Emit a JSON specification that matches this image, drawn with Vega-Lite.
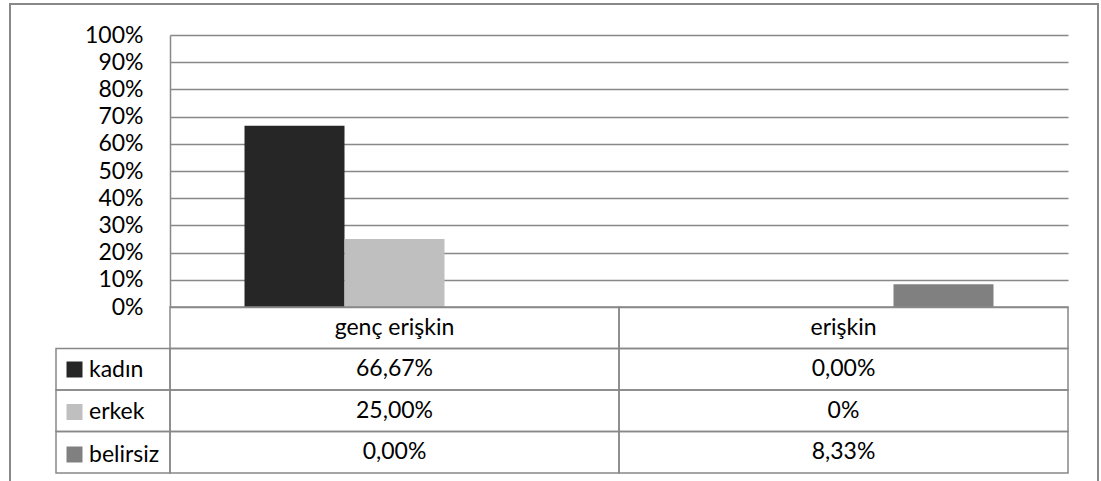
{
  "$schema": "https://vega.github.io/schema/vega-lite/v6.json",
  "width": 1088,
  "height": 478,
  "autosize": {"type": "none"},
  "padding": {"left": 10, "top": 4, "right": 3, "bottom": -1},
  "background": "white",
  "config": {
    "view": {"stroke": "#888888", "strokeWidth": 2},
    "font": "Lato",
    "text": {"font": "Lato", "fontSize": 23, "color": "black"}
  },
  "datasets": {
    "values": [
      {"age": "genç erişkin", "sex": "kadın", "value": 0.6667, "label": "66,67%"},
      {"age": "genç erişkin", "sex": "erkek", "value": 0.25, "label": "25,00%"},
      {"age": "genç erişkin", "sex": "belirsiz", "value": 0, "label": "0,00%"},
      {"age": "erişkin", "sex": "kadın", "value": 0, "label": "0,00%"},
      {"age": "erişkin", "sex": "erkek", "value": 0, "label": "0%"},
      {"age": "erişkin", "sex": "belirsiz", "value": 0.0833, "label": "8,33%"}
    ],
    "ages": [{"age": "genç erişkin"}, {"age": "erişkin"}],
    "keys": [{"sex": "kadın"}, {"sex": "erkek"}, {"sex": "belirsiz"}]
  },
  "layer": [
    {
      "data": {"name": "values"},
      "mark": {"type": "bar"},
      "encoding": {
        "x": {"field": "age", "type": "nominal", "scale": {"domain": ["genç erişkin", "erişkin"], "range": [160, 1058], "paddingInner": 0, "paddingOuter": 0}, "axis": null},
        "xOffset": {"field": "sex", "type": "nominal", "scale": {"domain": ["kadın", "erkek", "belirsiz"], "paddingInner": 0, "paddingOuter": 0.745}},
        "y": {
          "field": "value", "type": "quantitative",
          "scale": {"domain": [0, 1], "range": [303, 31], "nice": false},
          "axis": {
            "values": [0, 0.1, 0.2, 0.3, 0.4, 0.5, 0.6, 0.7, 0.8, 0.9, 1],
            "format": ".0%", "title": null, "offset": -160,
            "grid": true, "gridColor": "#888888", "gridWidth": 1.5,
            "domain": true, "domainColor": "#888888", "domainWidth": 1.5,
            "ticks": false, "tickSize": 0, "labelPadding": 27,
            "labelFont": "Lato", "labelFontSize": 23, "labelColor": "black"
          }
        },
        "color": {
          "field": "sex", "type": "nominal",
          "scale": {"domain": ["kadın", "erkek", "belirsiz"], "range": ["#262626", "#bfbfbf", "#808080"]},
          "legend": {
            "orient": "none", "legendX": 53, "legendY": 354, "title": null,
            "direction": "vertical", "padding": 0,
            "symbolType": "square", "symbolSize": 256, "symbolStrokeWidth": 0, "symbolOpacity": 1,
            "labelFont": "Lato", "labelFontSize": 23, "labelColor": "black", "labelOffset": 3,
            "rowPadding": 18.5
          }
        }
      }
    },
    {
      "data": {"name": "values"},
      "mark": {"type": "rect", "fill": null, "stroke": "#888888", "strokeWidth": 1.5},
      "encoding": {
        "x": {"field": "age", "type": "nominal", "scale": {"domain": ["genç erişkin", "erişkin"], "range": [160, 1058], "paddingInner": 0, "paddingOuter": 0}, "axis": null},
        "y": {"field": "sex", "type": "nominal", "scale": {"domain": ["header", "kadın", "erkek", "belirsiz"], "range": [303, 469], "paddingInner": 0, "paddingOuter": 0}, "axis": null}
      }
    },
    {
      "data": {"name": "ages"},
      "mark": {"type": "rect", "fill": null, "stroke": "#888888", "strokeWidth": 1.5},
      "encoding": {
        "x": {"field": "age", "type": "nominal", "scale": {"domain": ["genç erişkin", "erişkin"], "range": [160, 1058], "paddingInner": 0, "paddingOuter": 0}, "axis": null},
        "y": {"datum": "header", "type": "nominal", "scale": {"domain": ["header", "kadın", "erkek", "belirsiz"], "range": [303, 469], "paddingInner": 0, "paddingOuter": 0}, "axis": null}
      }
    },
    {
      "data": {"name": "keys"},
      "mark": {"type": "rect", "fill": null, "stroke": "#888888", "strokeWidth": 1.5},
      "encoding": {
        "x": {"datum": "key", "type": "nominal", "scale": {"domain": ["key"], "range": [46, 160], "paddingInner": 0, "paddingOuter": 0}, "axis": null},
        "y": {"field": "sex", "type": "nominal", "scale": {"domain": ["header", "kadın", "erkek", "belirsiz"], "range": [303, 469], "paddingInner": 0, "paddingOuter": 0}, "axis": null}
      }
    },
    {
      "data": {"name": "values"},
      "mark": {"type": "text", "align": "center", "baseline": "middle"},
      "encoding": {
        "x": {"field": "age", "type": "nominal", "scale": {"domain": ["genç erişkin", "erişkin"], "range": [160, 1058], "paddingInner": 0, "paddingOuter": 0}, "axis": null},
        "y": {"field": "sex", "type": "nominal", "scale": {"domain": ["header", "kadın", "erkek", "belirsiz"], "range": [303, 469], "paddingInner": 0, "paddingOuter": 0}, "axis": null},
        "text": {"field": "label", "type": "nominal"}
      }
    },
    {
      "data": {"name": "ages"},
      "mark": {"type": "text", "align": "center", "baseline": "middle"},
      "encoding": {
        "x": {"field": "age", "type": "nominal", "scale": {"domain": ["genç erişkin", "erişkin"], "range": [160, 1058], "paddingInner": 0, "paddingOuter": 0}, "axis": null},
        "y": {"datum": "header", "type": "nominal", "scale": {"domain": ["header", "kadın", "erkek", "belirsiz"], "range": [303, 469], "paddingInner": 0, "paddingOuter": 0}, "axis": null},
        "text": {"field": "age", "type": "nominal"}
      }
    }
  ],
  "resolve": {"scale": {"x": "independent", "y": "independent", "color": "independent"}}
}
